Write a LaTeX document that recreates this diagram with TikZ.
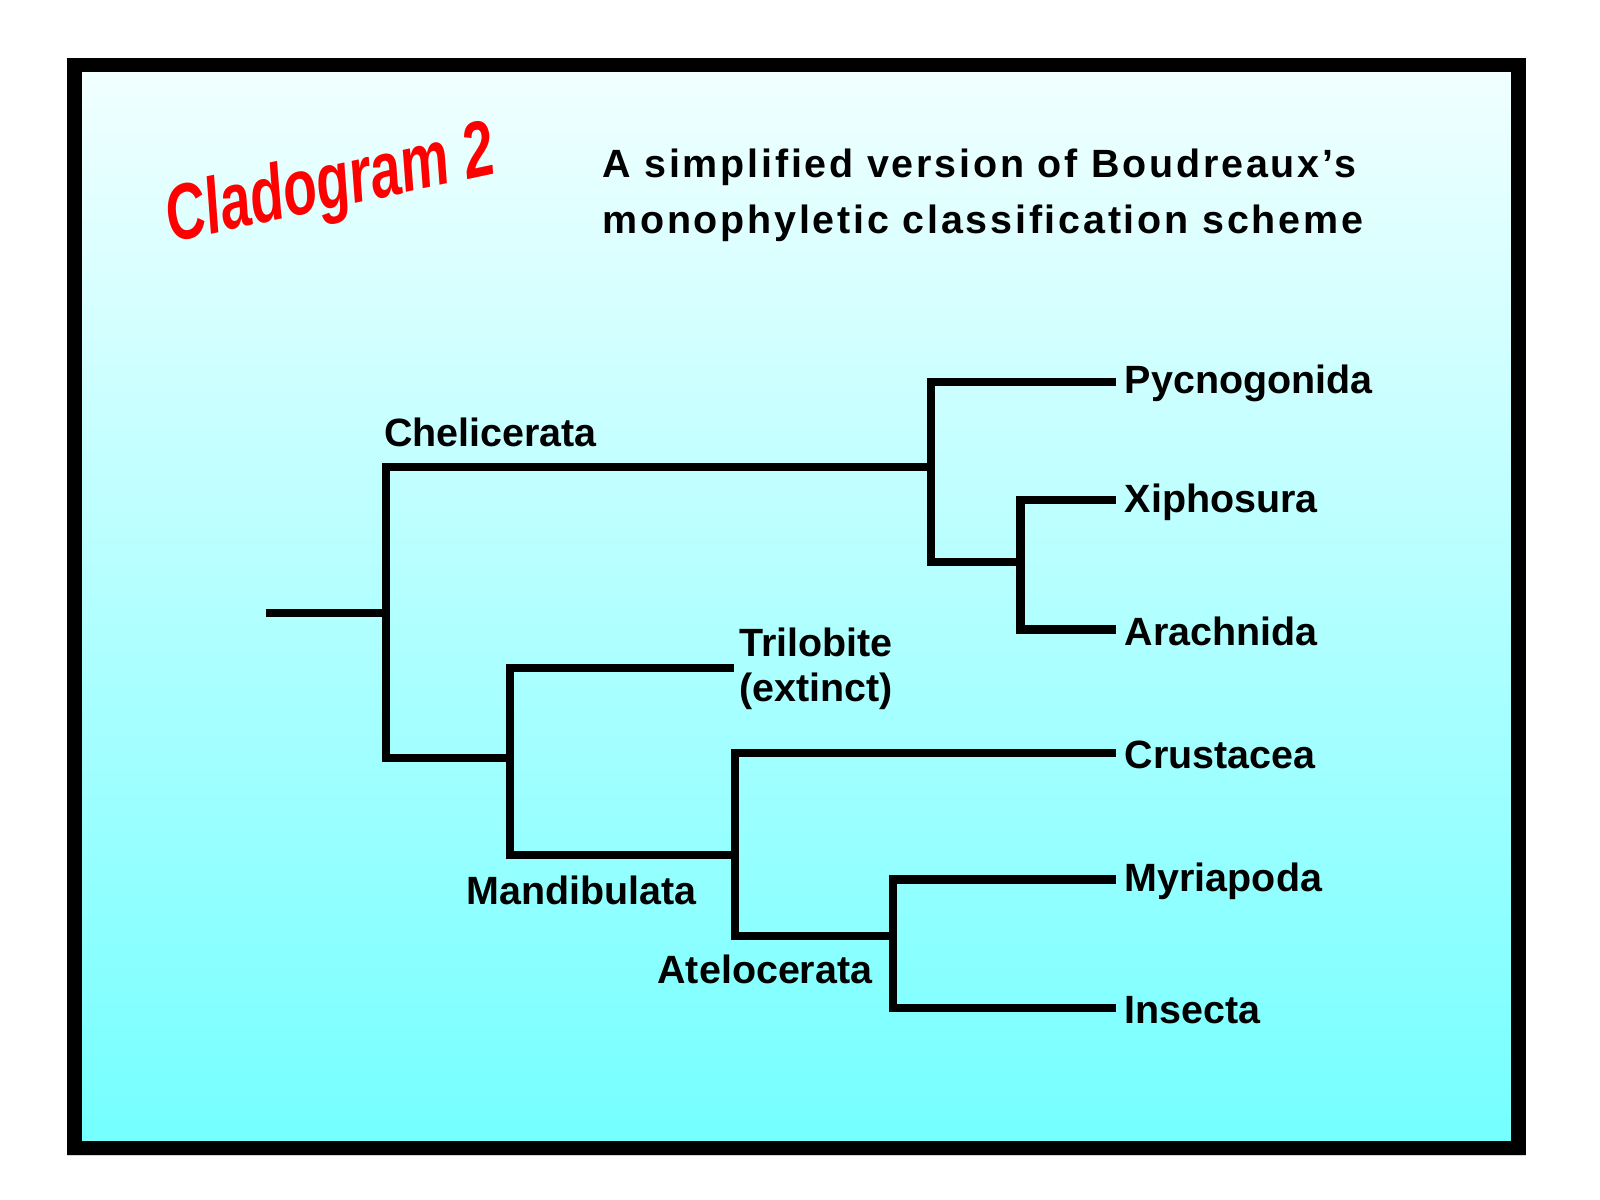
\documentclass[tikz,border=0pt]{standalone}
\usepackage{fontspec}
\setmainfont{Liberation Sans}
\usetikzlibrary{positioning}
\begin{document}
\begin{tikzpicture}[x=0.02cm,y=-0.02cm,
    branch/.style={line width=4.6pt,line cap=rect},
    taxon/.style={font=\bfseries\fontsize{22}{25}\selectfont,inner sep=0pt,anchor=west},
    clade/.style={font=\bfseries\fontsize{22}{25}\selectfont,inner sep=0pt}]
  \useasboundingbox (0,0) rectangle (1568,1176);
  \fill[white] (0,0) rectangle (1568,1176);
  \shade[top color=cyan!5,bottom color=cyan!55] (66,57) rectangle (1495,1132);
  \draw[line width=8pt] (73,64) rectangle (1488,1125);
  % title
  \node[rotate=12,text=red,font=\bfseries\itshape\fontsize{44}{46}\selectfont,xscale=0.7] (cl) at (324,184) {Cladogram 2};
  \node[align=left,font=\bfseries\addfontfeature{LetterSpace=7}\fontsize{22}{31}\selectfont,anchor=north west,inner sep=0pt] (ti) at (590,146)
    {A simplified version of Boudreaux's\\monophyletic classification scheme};
  % nodes of the tree
  \coordinate (root) at (265,601);
  \coordinate (n1) at (378,601);
  \coordinate (n2) at (912,458);
  \coordinate (n3) at (1000,551);
  \coordinate (n4) at (500,743);
  \coordinate (n5) at (720,838);
  \coordinate (n6) at (875,917);
  \coordinate (tip) at (1090,0);
  \node[taxon] (pyc) at (1102,376) {Pycnogonida};
  \node[taxon] (xip) at (1102,492) {Xiphosura};
  \node[taxon] (ara) at (1102,619) {Arachnida};
  \node[taxon,align=left,anchor=north west] (tri) at (724,615) {Trilobite\\(extinct)};
  \node[taxon] (cru) at (1102,740) {Crustacea};
  \node[taxon] (myr) at (1102,864) {Myriapoda};
  \node[taxon] (ins) at (1102,990) {Insecta};
  \node[clade,anchor=west] (che) at (376,424) {Chelicerata};
  \node[clade,anchor=west] (man) at (457,873) {Mandibulata};
  \node[clade,anchor=west] (ate) at (644,950) {Atelocerata};
  % branches
  \draw[branch] (root) -- (n1);
  \draw[branch] (n1 |- n2) -- (n1 |- n4);
  \draw[branch] (n1 |- n2) -- (n2);
  \draw[branch] (912,374) -- (n2 |- n3) -- (n3);
  \draw[branch] (912,374) -- (1090,374);
  \draw[branch] (1000,490) -- (1000,617);
  \draw[branch] (1000,490) -- (1090,490);
  \draw[branch] (1000,617) -- (1090,617);
  \draw[branch] (n1 |- n4) -- (n4);
  \draw[branch] (500,655) -- (n4 |- n5) -- (n5);
  \draw[branch] (500,655) -- (715,655);
  \draw[branch] (720,738) -- (n5 |- n6) -- (n6);
  \draw[branch] (720,738) -- (1090,738);
  \draw[branch] (875,862) -- (875,988);
  \draw[branch] (875,862) -- (1090,862);
  \draw[branch] (875,988) -- (1090,988);
\end{tikzpicture}
\end{document}
